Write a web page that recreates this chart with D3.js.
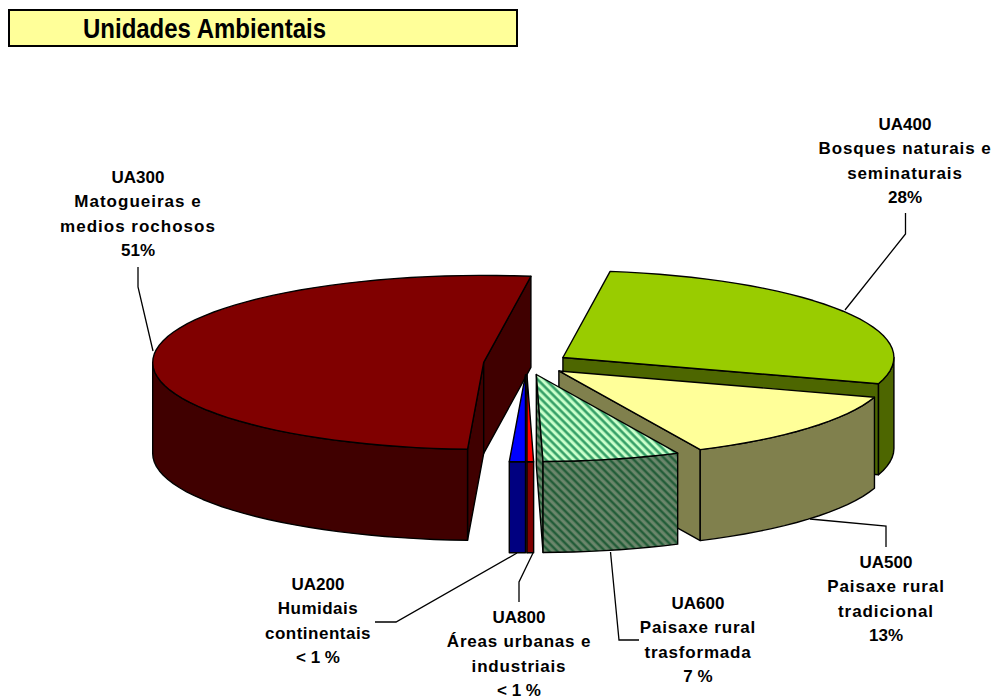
<!DOCTYPE html>
<html><head><meta charset="utf-8">
<script src="https://cdn.jsdelivr.net/npm/d3@7"></script>
<style>html,body{margin:0;padding:0;background:#fff}svg{display:block}text{font-family:"Liberation Sans",Arial,sans-serif;font-weight:bold;fill:#000}</style>
</head><body><svg id="c" width="994" height="700"></svg>
<script>
// data (clockwise from the first slice)
const chartTitle = "Unidades Ambientais";
const codes = ["UA400","UA500","UA600","UA800","UA200","UA300"];
const names = [["Bosques naturais e","seminaturais"],["Paisaxe rural","tradicional"],["Paisaxe rural","trasformada"],["Áreas urbanas e","industriais"],["Humidais","continentais"],["Matogueiras e","medios rochosos"]];
const percentLabels = ["28%","13%","7 %","< 1 %","< 1 %","51%"];
const values = [27.6,13.1,6.7,0.32,0.78,51.5];
const topColors = ["#99CC00","#FFFF99","url(#hatchTop)","#FF0000","#0000FF","#800000"];
const sideColors = ["#4D6600","#80804D","url(#hatchSide)","#800000","#000080","#400000"];

// layout
const firstAngle = 8.2*Math.PI/180, cx=526.5, cy=363.5, rx=331, ry=87, depth=91, explode=43/331;
const labelX = [905,886,698,519,318,138];
const labelY = [130,568,609,623,590,183];
const lineStep = 24.4;
const lineSpacing = [0.9,0.9,0.8,0.8,0.5,1.0];
const leaders = [[[845,310],[905.5,234],[905.5,213]],[[810,519],[886,526],[886,547]],[[610.5,552],[619,640],[639,640]],[[533,553],[519,582],[519,602]],[[517,553],[396,622],[375,622]],[[153,351],[138,287],[138,267]]];
const drawOrder = [0,1,2,5,4,3];

const x = d3.scaleLinear().domain([-1,1]).range([cx-rx,cx+rx]);
const y = d3.scaleLinear().domain([-1,1]).range([cy-ry,cy+ry]);
const svg = d3.select("#c");
const defs = svg.append("defs");
function hatch(id,bg,mid,dark){
  const p=defs.append("pattern").attr("id",id).attr("patternUnits","userSpaceOnUse").attr("width",5.66).attr("height",5.66).attr("patternTransform","rotate(45)");
  p.append("rect").attr("width",5.66).attr("height",5.66).attr("fill",bg);
  p.append("rect").attr("y",0).attr("width",5.66).attr("height",3.0).attr("fill",mid);
  p.append("rect").attr("y",0.5).attr("width",5.66).attr("height",1.8).attr("fill",dark);
}
hatch("hatchTop","#CCFFCC","#66CC88","#339966");
hatch("hatchSide","#6B866B","#4A7455","#1F5A35");

const arcs = d3.pie().sort(null).startAngle(firstAngle).endAngle(firstAngle+2*Math.PI)(values);
const line = d3.line().x(d=>d[0]).y(d=>d[1]);
const proj=(ox,oy,a,r=1)=>[x(ox+r*Math.sin(a)), y(oy-r*Math.cos(a))];
const arcPts=(ox,oy,a0,a1)=>{const n=Math.max(2,Math.ceil((a1-a0)/(Math.PI/60)));return d3.range(n+1).map(i=>proj(ox,oy,a0+(a1-a0)*i/n));};
const drop=p=>[p[0],p[1]+depth];
const face=(g,pts,fill)=>g.append("path").attr("d",line(pts)+"Z").attr("fill",fill).attr("stroke","#000").attr("stroke-width",1.4).attr("stroke-linejoin","round");

drawOrder.forEach(i=>{
  const d=arcs[i], a0=d.startAngle, a1=d.endAngle, mid=(a0+a1)/2;
  const ox=explode*Math.sin(mid), oy=-explode*Math.cos(mid);
  const g=svg.append("g");
  const c=proj(ox,oy,0,0);
  const edge=a=>{const p=proj(ox,oy,a);return [c,p,drop(p),drop(c)];};
  if(Math.sin(a0)<0) face(g,edge(a0),sideColors[i]);
  if(Math.sin(a1)>0) face(g,edge(a1),sideColors[i]);
  const f0=Math.max(a0,Math.PI/2), f1=Math.min(a1,1.5*Math.PI);
  if(f1>f0){const t=arcPts(ox,oy,f0,f1);face(g,t.concat(t.map(drop).reverse()),sideColors[i]);}
  face(g,[c].concat(arcPts(ox,oy,a0,a1)),topColors[i]);
});

// leaders
svg.append("g").selectAll("path").data(leaders).join("path").attr("d",line).attr("fill","none").attr("stroke","#000").attr("stroke-width",1.3);

// labels
codes.forEach((code,i)=>{
  const rows=[code,...names[i],percentLabels[i]];
  rows.forEach((t,j)=>{
    svg.append("text").attr("x",labelX[i]).attr("y",labelY[i]+j*lineStep).attr("text-anchor","middle")
      .attr("font-size",17).attr("letter-spacing",(j==1||j==2)?lineSpacing[i]:0).text(t);
  });
});

// title
svg.append("rect").attr("x",9).attr("y",10).attr("width",508).attr("height",36).attr("fill","#FFFF99").attr("stroke","#000").attr("stroke-width",2);
svg.append("text").attr("x",83).attr("y",38).attr("font-size",28).attr("textLength",243).attr("lengthAdjust","spacingAndGlyphs").text(chartTitle);
</script></body></html>
